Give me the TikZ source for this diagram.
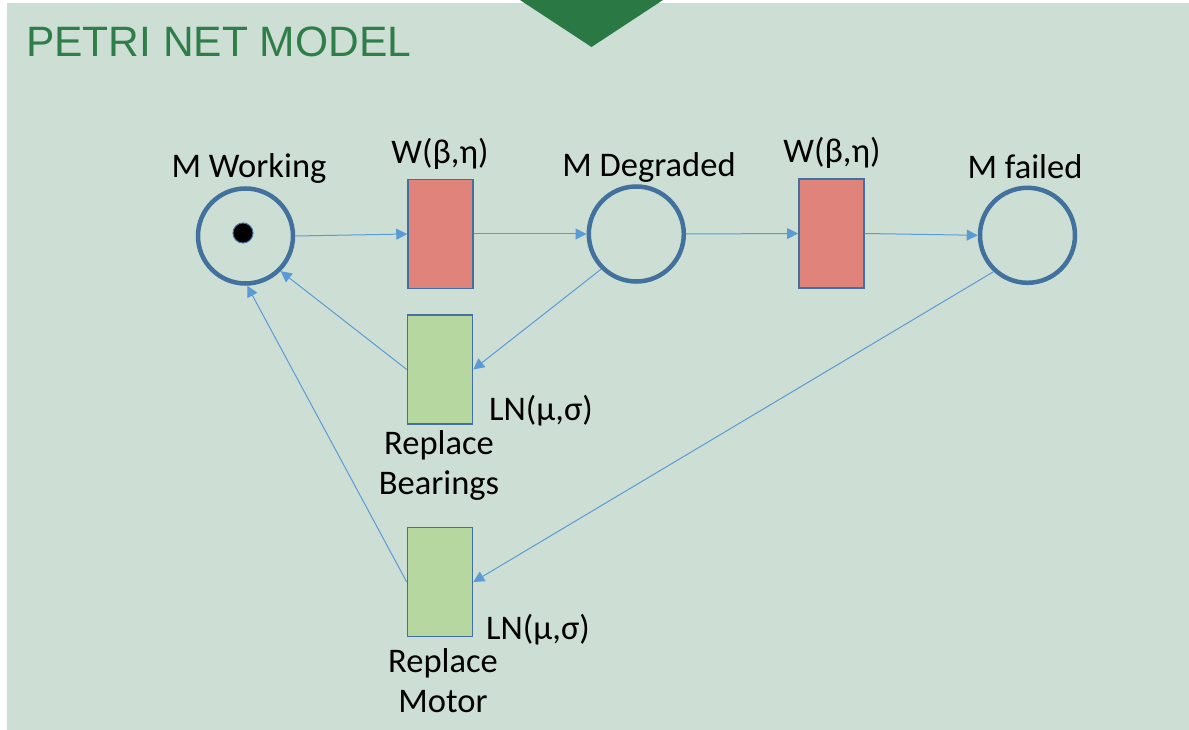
\documentclass[tikz,border=0pt]{standalone}
\usepackage{fontspec}
\setmainfont{Carlito}
\newfontfamily\headfont{Liberation Sans}
\usetikzlibrary{arrows.meta}

\definecolor{bgsage}{HTML}{CDDFD4}
\definecolor{headgreen}{HTML}{2F7D48}
\definecolor{tabgreen}{HTML}{2A7843}
\definecolor{placeblue}{HTML}{41719C}
\definecolor{arcblue}{HTML}{5B9BD5}
\definecolor{firered}{HTML}{E0837B}
\definecolor{repairgreen}{HTML}{B6D7A0}

\tikzset{
  place/.style={circle, draw=placeblue, line width=4.5pt, minimum size=95pt,
                inner sep=0pt, outer sep=2.25pt},
  token/.style={circle, fill=black, draw=placeblue, line width=1pt,
                minimum size=20pt, inner sep=0pt},
  trans/.style={rectangle, draw=placeblue, line width=1.5pt,
                minimum width=65pt, minimum height=109pt, inner sep=0pt, outer sep=0.75pt},
  failtrans/.style={trans, fill=firered},
  repairtrans/.style={trans, fill=repairgreen},
  arc/.style={draw=arcblue, line width=1pt, -{Triangle[length=11pt,width=11pt]}},
  lbl/.style={inner sep=0pt, anchor=base, font=\fontsize{34.5}{40}\selectfont},
  lblw/.style={lbl, anchor=base west}
}

\begin{document}
\begin{tikzpicture}[x=1pt, y=-1pt]
  % page and slide background
  \useasboundingbox (0,0) rectangle (1189,730);
  \fill[white] (0,0) rectangle (1189,730);
  \fill[bgsage] (7,3) rectangle (1189,730);
  \fill[tabgreen] (520,0) -- (663,0) -- (591.5,47) -- cycle;

  % heading
  \node[inner sep=0pt, anchor=base west, text=headgreen,
        font=\headfont\fontsize{42.5}{50}\selectfont] (title) at (26,57) {PETRI NET MODEL};

  % places
  \node[place] (mw) at (245.5,236) {};
  \node[token] (tok) at (243,233) {};
  \node[place] (deg) at (636.3,234) {};
  \node[place] (fail) at (1027.5,235.3) {};

  % transitions
  \node[failtrans] (t1) at (440.5,234) {};
  \node[failtrans] (t2) at (831.3,233.5) {};
  \node[repairtrans] (rb) at (440,369.5) {};
  \node[repairtrans] (rm) at (440,582) {};

  % labels
  \node[lbl] (lmw) at (249,178) {M Working};
  \node[lbl] (ldeg) at (649,177) {M Degraded};
  \node[lbl] (lfail) at (1025,179) {M failed};
  \node[lbl] (lt1) at (440,164) {W(β,η)};
  \node[lbl] (lt2) at (832,163) {W(β,η)};
  \node[lblw] (lrb) at (489,420) {LN(μ,σ)};
  \node[lblw] (lrm) at (486,639) {LN(μ,σ)};
  \node[lbl] (rba) at (439,454) {Replace};
  \node[lbl] (rbb) at (439,494) {Bearings};
  \node[lbl] (rma) at (443,672) {Replace};
  \node[lbl] (rmb) at (443,712) {Motor};

  % arcs
  \draw[arc] (mw.east) -- (t1.west);
  \draw[arc] (t1.east) -- (deg.west);
  \draw[arc] (deg.east) -- (t2.west);
  \draw[arc] (t2.east) -- (fail.west);
  \draw[arc] (deg.225) -- (rb.east);
  \draw[arc] (rb.west) -- (mw.-45);
  \draw[arc] (fail.227) -- (rm.east);
  \draw[arc] (rm.west) -- (mw.-88);
\end{tikzpicture}
\end{document}
